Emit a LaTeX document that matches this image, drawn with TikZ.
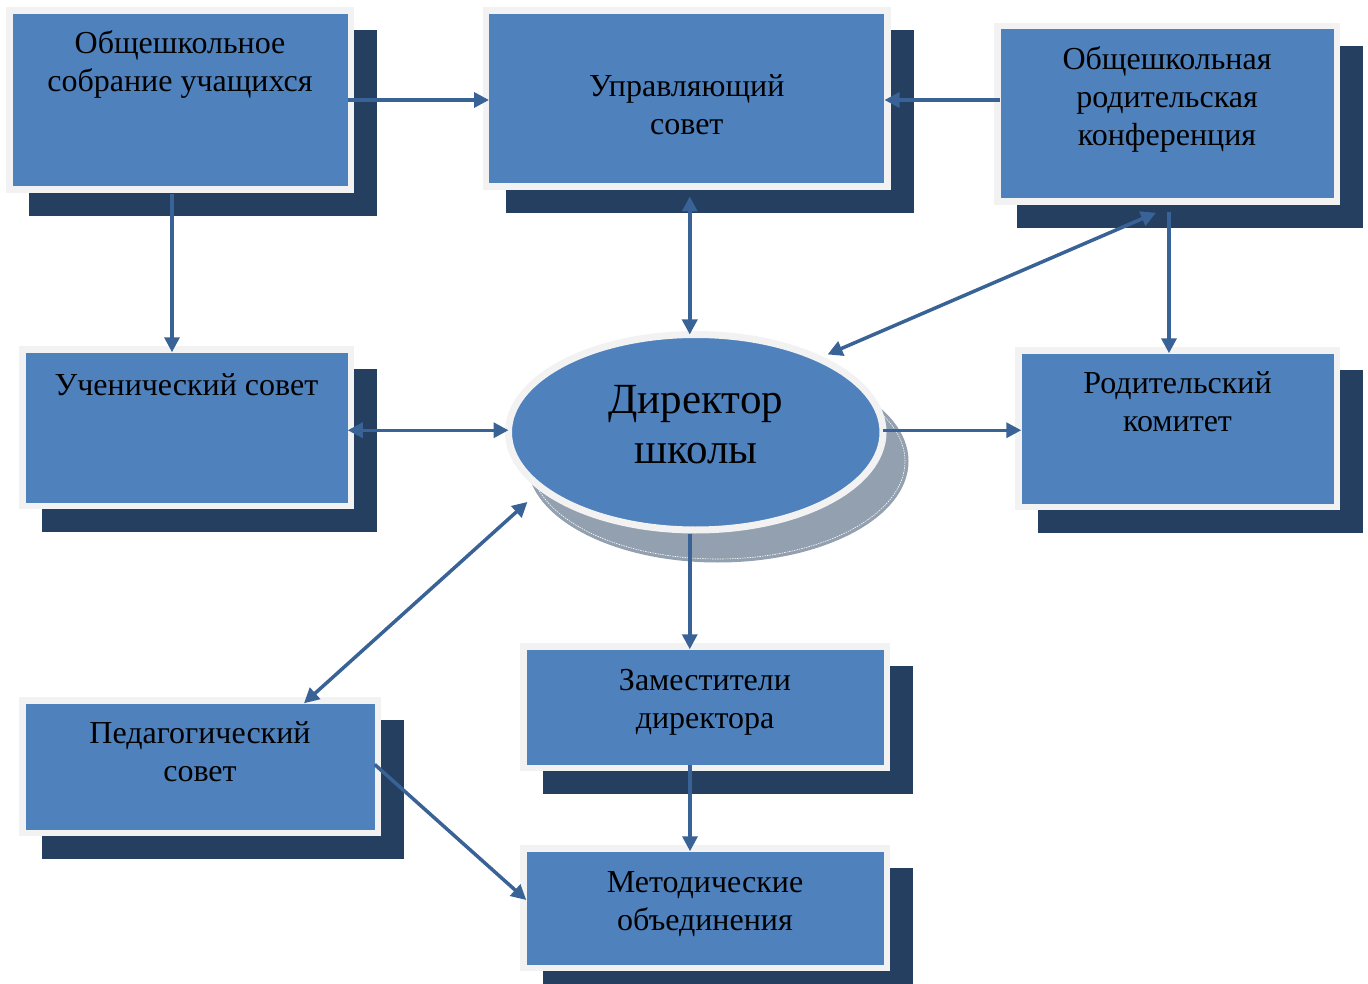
\documentclass[tikz,border=0pt]{standalone}
\usepackage{fontspec}
\setmainfont{Liberation Serif}
\usetikzlibrary{arrows.meta,shadows,shapes.geometric}

\definecolor{boxblue}{RGB}{79,129,189}
\definecolor{framegray}{RGB}{242,242,242}
\definecolor{shadowblue}{RGB}{36,63,96}
\definecolor{ellshadow}{RGB}{146,160,175}
\definecolor{linkblue}{RGB}{57,98,150}
\newcommand{\boxfont}{\fontsize{32}{38}\selectfont}
\newcommand{\dirfont}{\fontsize{43}{50}\selectfont}

\begin{document}
\begin{tikzpicture}[x=1pt, y=-1pt, >={Triangle[length=15pt,width=15pt]},
	orgbox/.style={rectangle, fill=boxblue, draw=framegray, line width=6.5pt,
	inner sep=0pt, outer sep=-3pt,
	general shadow={shadow xshift=23pt, shadow yshift=-23pt, fill=shadowblue,
	draw=shadowblue, line width=6.5pt}},
	dirnode/.style={ellipse, fill=boxblue, draw=framegray, line width=7pt,
	inner sep=0pt, outer sep=0pt, minimum width=374.5pt, minimum height=195.5pt,
	general shadow={shadow xshift=22pt, shadow yshift=-29pt, fill=ellshadow,
	draw=ellshadow, line width=7pt},
	general shadow={shadow xshift=22pt, shadow yshift=-29pt, draw=white,
	line width=0.6pt, dash pattern=on 1.5pt off 1pt}},
	boxtitle/.style={anchor=north, align=center, font=\boxfont, inner sep=0pt, outer sep=0pt},
	dirtitle/.style={anchor=center, align=center, font=\dirfont, inner sep=0pt, outer sep=0pt},
	link/.style={draw=linkblue, line width=3.5pt}]
\useasboundingbox (0,0) rectangle (1368,984);

\node[orgbox, minimum width=341.5pt, minimum height=179pt,
	label={[boxtitle, yshift=-17.5pt]north:Общешкольное\\собрание учащихся}] (sobranie) at (180,100) {};
\node[orgbox, minimum width=401.5pt, minimum height=176pt,
	label={[boxtitle, yshift=-61.5pt]north:Управляющий\\совет}] (upravl) at (686.75,98.5) {};
\node[orgbox, minimum width=339.5pt, minimum height=175.5pt,
	label={[boxtitle, yshift=-17pt]north:Общешкольная\\родительская\\конференция}] (konf) at (1167,114) {};
\node[orgbox, minimum width=328.5pt, minimum height=156.5pt,
	label={[boxtitle, yshift=-21.75pt]north:Ученический совет}] (uchsovet) at (186.5,427.5) {};
\node[orgbox, minimum width=318.5pt, minimum height=156.5pt,
	label={[boxtitle, yshift=-18.5pt]north:Родительский\\комитет}] (rodkom) at (1177.5,428.5) {};
\node[orgbox, minimum width=363.5pt, minimum height=121.5pt,
	label={[boxtitle, yshift=-19.75pt]north:Заместители\\директора}] (zam) at (705,707) {};
\node[orgbox, minimum width=355.5pt, minimum height=132.5pt,
	label={[boxtitle, yshift=-18.5pt]north:Педагогический\\совет}] (pedsovet) at (200,766.5) {};
\node[orgbox, minimum width=363.5pt, minimum height=119.5pt,
	label={[boxtitle, yshift=-20.25pt]north:Методические\\объединения}] (metod) at (705,908) {};
\node[dirnode, label={[dirtitle, yshift=7.5pt]center:Директор\\школы}] (direktor) at (695.75,432.25) {};

\draw[link,->] (sobranie.east) -- (sobranie.east -| upravl.west);
\draw[link,->] (konf.west |- sobranie.east) -- (sobranie.east -| upravl.east);
\draw[link,->] ([xshift=-8pt,yshift=-8pt]sobranie.south) -- ([xshift=-8pt]sobranie.south |- uchsovet.north);
\draw[link,<->] ([xshift=3pt,yshift=-13pt]upravl.south) -- ([xshift=3pt]upravl.south |- direktor.north);
\draw[link,<->] ([xshift=-11pt,yshift=-14pt]konf.south) -- ([xshift=9pt,yshift=4pt]direktor.31);
\draw[link,->] ([xshift=2pt,yshift=-13pt]konf.south) -- ([xshift=2pt]konf.south |- rodkom.north);
\draw[link,<->] ([yshift=2pt]uchsovet.east |- direktor.west) -- ([yshift=2pt]direktor.west);
\draw[link,->] ([yshift=2pt]direktor.east) -- ([yshift=2pt]direktor.east -| rodkom.west);
\draw[link,<->] ([xshift=104pt]pedsovet.north) -- ([xshift=-23pt,yshift=-8pt]direktor.203);
\draw[link,->] ([xshift=-6pt,yshift=-4pt]direktor.south) -- ([xshift=-6pt]direktor.south |- zam.north);
\draw[link,->] ([xshift=-15pt]zam.south) -- ([xshift=-15pt]metod.north);
\draw[link,->] ([yshift=2pt]pedsovet.east) -- ([yshift=8pt]metod.west);
\end{tikzpicture}
\end{document}
